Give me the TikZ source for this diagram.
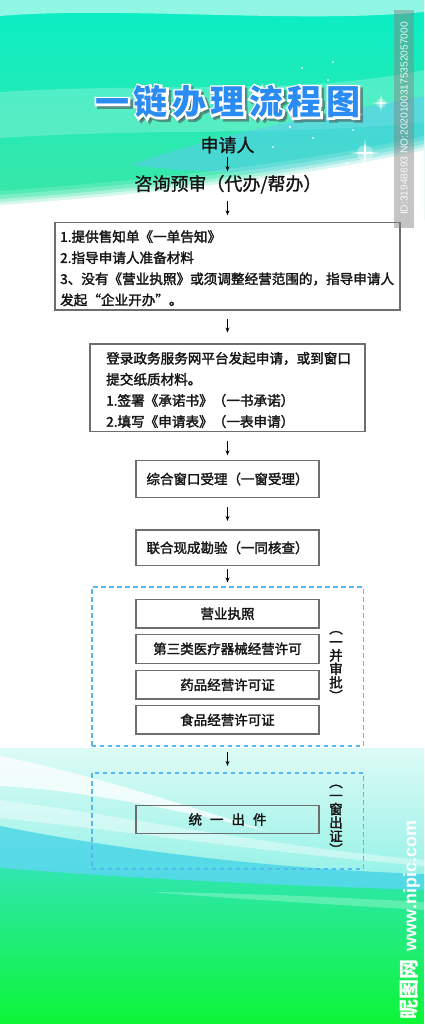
\documentclass[tikz,border=0pt]{standalone}
\usepackage{fontspec}
\setmainfont{Noto Sans CJK SC}
\newfontfamily\cjk{Noto Sans CJK SC}
\newfontfamily\cjkfb{Noto Sans CJK SC}[FakeBold=2]
\newfontfamily\cjkmb{Noto Sans CJK SC}[FakeBold=1.2]
\newfontfamily\latin{Liberation Sans}
\usetikzlibrary{arrows.meta}
\definecolor{teala}{HTML}{08EEC6}
\definecolor{tealb}{HTML}{3FE6A4}
\definecolor{cyanb}{HTML}{5CCBF0}
\definecolor{lowa}{HTML}{DDFBF6}
\definecolor{lowb}{HTML}{8FF1E6}
\definecolor{wavec}{HTML}{1CC6E4}
\definecolor{greenmid}{HTML}{30E6B0}
\definecolor{greena}{HTML}{2AEA80}
\definecolor{greenb}{HTML}{0CF636}
\definecolor{boxgray}{HTML}{6E6E6E}
\definecolor{dashblue}{HTML}{56B8F2}
\definecolor{titleblue}{HTML}{2A8CF2}
\definecolor{inktext}{HTML}{151515}
\newcommand\ttltext{一\hspace{4.5pt}链\hspace{4.5pt}办\hspace{4.5pt}理\hspace{4.5pt}流\hspace{4.5pt}程\hspace{4.5pt}图}
\begin{document}
\begin{tikzpicture}[x=1pt,y=-1pt,
  box/.style={draw=boxgray, line width=1.4pt, inner sep=0pt, text=inktext, font=\cjkfb\fontsize{13.5}{13.5}\selectfont},
  dashbox/.style={draw=dashblue, line width=1.6pt, dash pattern=on 4.5pt off 3.5pt, inner sep=0pt},
  txt/.style={inner sep=0pt, text=inktext},
  btxt/.style={inner sep=0pt, text=inktext, align=left, anchor=west, font=\cjkfb\fontsize{13.6}{21.1}\selectfont},
  vlab/.style={inner sep=0pt, text=inktext, align=center, font=\cjkfb\fontsize{13.5}{13.5}\selectfont},
  ttlsty/.style={inner sep=0pt, font=\cjk\bfseries\fontsize{34}{34}\selectfont},
  ttlout/.style={inner sep=0pt, font=\cjk\bfseries\fontsize{34}{34}\selectfont\addfontfeature{FakeBold=12}},
  arr/.style={draw=black, line width=0.9pt, -{Stealth[length=5pt,width=4pt]}}]
\useasboundingbox (0,0) rectangle (424,1024);
% ---------- background ----------
\fill[white] (0,0) rectangle (424,1024);
\shade[top color=teala, bottom color=tealb] (0,0) rectangle (424,220);
\fill[white, opacity=.55] (0,0) -- (424,0) -- (424,12) .. controls (300,24) and (120,6) .. (0,16) -- cycle;
\fill[white, opacity=.22] (0,92) .. controls (150,82) and (300,96) .. (424,70) -- (424,122) .. controls (300,136) and (150,128) .. (0,138) -- cycle;
\fill[cyanb, opacity=.55] (130,165) .. controls (230,130) and (340,112) .. (424,96) -- (424,160) .. controls (330,172) and (240,178) .. (130,165) -- cycle;
\foreach \o/\op in {14/0.15, 10/0.22, 6/0.35, 3/0.5}
  \fill[white, opacity=\op] (0,205-\o) .. controls (140,195-\o) and (300,178-\o) .. (424,150-\o) -- (424,750) -- (0,750) -- cycle;
\fill[white] (0,205) .. controls (140,195) and (300,178) .. (424,150) -- (424,748) -- (0,748) -- cycle;
% sparkles
\fill[white, opacity=.35] (365,153) circle (8);
\fill[white] (365,139) -- (366.2,151.8) -- (380,153) -- (366.2,154.2) -- (365,167) -- (363.8,154.2) -- (350,153) -- (363.8,151.8) -- cycle;
\fill[white, opacity=.35] (381,103) circle (5);
\fill[white] (381,94) -- (381.8,102.2) -- (390,103) -- (381.8,103.8) -- (381,112) -- (380.2,103.8) -- (372,103) -- (380.2,102.2) -- cycle;
\foreach \sx/\sy/\sr in {333/62/1.2, 302/68/1.2, 328/80/1, 290/127/1.4, 313/138/1.2, 273/147/1.1, 347/163/1.3, 353/130/1}
  \fill[white, opacity=.85] (\sx,\sy) circle (\sr);
% lower background
\shade[top color=lowa, bottom color=lowb] (0,748) rectangle (424,890);
\fill[white, opacity=.75] (0,756) .. controls (80,772) and (170,800) .. (270,832) .. controls (170,808) and (80,790) .. (0,786) -- cycle;
\fill[white, opacity=.4] (0,800) .. controls (120,815) and (260,845) .. (424,860) -- (424,866) .. controls (260,852) and (120,830) .. (0,818) -- cycle;
\fill[wavec, opacity=.55] (0,826) .. controls (100,846) and (250,868) .. (424,874) -- (424,892) .. controls (250,888) and (100,878) .. (0,872) -- cycle;
\shade[top color=greenmid, middle color=greena, bottom color=greenb] (0,868) .. controls (150,880) and (300,886) .. (424,890) -- (424,1024) -- (0,1024) -- cycle;
\fill[white, opacity=.25] (150,892) .. controls (250,893) and (350,898) .. (424,902) -- (424,910) .. controls (340,905) and (250,900) .. (150,892) -- cycle;
% ---------- title ----------
\node[ttlout, text=black!75, opacity=.5] (tsh) at (230.5,104.5) {\ttltext};
\node[ttlout, text=white] (tout) at (228,102) {\ttltext};
\node[ttlsty, text=titleblue] (title) at (228,102) {\ttltext};
% ---------- flow ----------
\node[txt, font=\cjkmb\fontsize{18}{18}\selectfont] (app) at (227.5,145) {申请人};
\node[txt, font=\cjkmb\fontsize{18}{18}\selectfont] (pre) at (228,184.3) {咨询预审（代办/帮办）};
\node[box, minimum width=345, minimum height=87.7] (b1) at (227.5,266.2) {};
\node[btxt] (b1t) at (60,268.3) {1.提供售知单《一单告知》\\2.指导申请人准备材料\\3、没有《营业执照》或须调整经营范围的，指导申请人\\发起“企业开办”。};
\node[box, minimum width=275, minimum height=87.7] (b2) at (227.5,387.8) {};
\node[btxt] (b2t) at (106,390) {登录政务服务网平台发起申请，或到窗口\\提交纸质材料。\\1.签署《承诺书》（一书承诺）\\2.填写《申请表》（一表申请）};
\node[box, minimum width=183.3, minimum height=36.6] (b3) at (227.5,479) {综合窗口受理（一窗受理）};
\node[box, minimum width=183.3, minimum height=35.7] (b4) at (227.5,547.8) {联合现成勘验（一同核查）};
\node[dashbox, minimum width=271.6, minimum height=158.7] (d1) at (227.5,666.6) {};
\node[box, minimum width=183.3, minimum height=28.7] (l1) at (227.5,613.7) {营业执照};
\node[box, minimum width=183.3, minimum height=29] (l2) at (227.5,648.8) {第三类医疗器械经营许可};
\node[box, minimum width=183.3, minimum height=28.3] (l3) at (227.5,684.9) {药品经营许可证};
\node[box, minimum width=183.3, minimum height=28.3] (l4) at (227.5,719.9) {食品经营许可证};
\node[vlab] (v1) at (336,666) {︵\\一\\并\\审\\批\\︶};
\node[dashbox, minimum width=271.6, minimum height=96.3] (d2) at (227.5,820.9) {};
\node[box, minimum width=183.3, minimum height=27.6] (out) at (227.5,819.5) {统\hspace{8pt}一\hspace{8pt}出\hspace{8pt}件};
\node[vlab] (v2) at (336,819.7) {︵\\一\\窗\\出\\证\\︶};
% arrows
\draw[arr, shorten <=3.3pt, shorten >=3.6pt] (app.south) -- (app.south |- pre.north);
\draw[arr, shorten <=7.2pt, shorten >=6.3pt] (app.south |- pre.south) -- (b1.north);
\draw[arr, shorten <=8.3pt, shorten >=10.7pt] (b1.south) -- (b2.north);
\draw[arr, shorten <=9pt, shorten >=4.7pt] (b2.south) -- (b3.north);
\draw[arr, shorten <=9.4pt, shorten >=8.3pt] (b3.south) -- (b4.north);
\draw[arr, shorten <=2.6pt, shorten >=4pt] (b4.south) -- (d1.north);
\draw[arr, shorten <=5.7pt, shorten >=6pt] (d1.south) -- (d2.north);
% ---------- watermarks ----------
\fill[black!50, opacity=.45] (394,10) rectangle (414,228);
\node[inner sep=0pt, rotate=90, text=white, opacity=.9, font=\latin\fontsize{10.2}{10.2}\selectfont] (wm1) at (404,118.5) {ID:31948693 NO:20201003175352057000};
\node[inner sep=0pt, rotate=90, text=white, font=\latin\bfseries\fontsize{18}{18}\selectfont] (wm2) at (410,920) {{\cjk\fontsize{20}{20}\selectfont 昵图网}\hspace{8pt}www.nipic.com};
\end{tikzpicture}
\end{document}
